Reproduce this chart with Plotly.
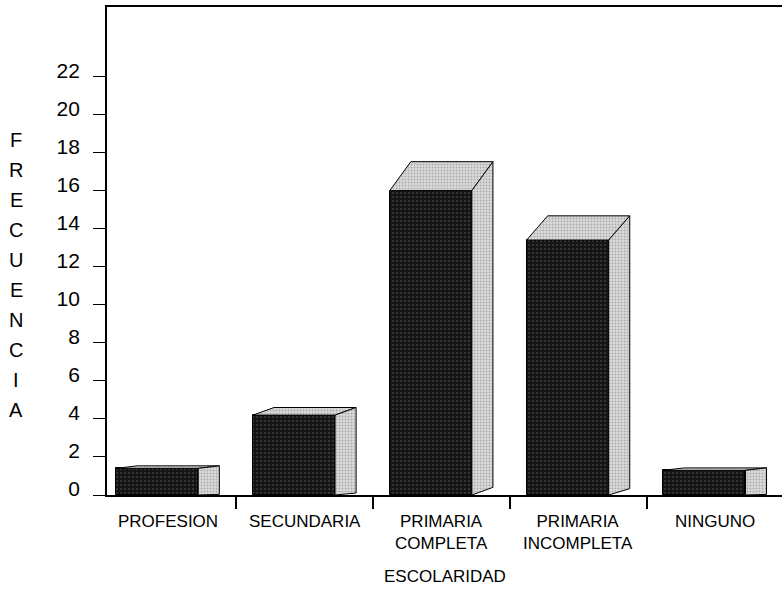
import plotly.graph_objects as go

# Frecuencia por escolaridad
categorias = ["PROFESION", "SECUNDARIA", "PRIMARIA<br>COMPLETA",
              "PRIMARIA<br>INCOMPLETA", "NINGUNO"]
frecuencia = [1.4, 4.2, 16.0, 13.4, 1.3]
y_ticks = list(range(0, 23, 2))
titulo_y = "FRECUENCIA"
titulo_x = "ESCOLARIDAD"

# Canvas and plot-area geometry (pixels)
W, H = 782, 592
ML, MR, MT, MB = 107, 0, 7, 97
PW, PH = W - ML - MR, H - MT - MB
Y_MAX = 25.65
X_RANGE = [-0.444, 4.49]

# Pseudo-3D block geometry (data units)
FRONT_W = 0.6
DEPTH_X = 0.154
RISE_TOP = 0.095
RISE_BOTTOM = 0.025

FONT = "Liberation Sans, Arial, Helvetica, sans-serif"
DARK = "#151515"
LIGHT = "#c9c9c9"


def px_to_paper(px, py):
    return (px - ML) / PW, (H - MB - py) / PH


pos = list(range(len(categorias)))
fig = go.Figure()

# Front faces of the blocks
fig.add_trace(go.Bar(
    x=[p - DEPTH_X / 2 for p in pos], y=frecuencia, width=FRONT_W,
    marker=dict(color=DARK, line=dict(color="black", width=1),
                pattern=dict(shape=".", fgcolor="#6e6e6e", bgcolor=DARK,
                             size=4, solidity=0.18)),
    hoverinfo="skip", showlegend=False,
))

# Top and side faces
for p, v in zip(pos, frecuencia):
    x0 = p - (FRONT_W + DEPTH_X) / 2
    x1 = x0 + FRONT_W
    bt = v * (1 + RISE_TOP)
    bb = v * RISE_BOTTOM
    faces = [
        ([x0, x1, x1 + DEPTH_X, x0 + DEPTH_X, x0], [v, v, bt, bt, v]),
        ([x1, x1, x1 + DEPTH_X, x1 + DEPTH_X, x1], [0, v, bt, bb, 0]),
    ]
    for fx, fy in faces:
        fig.add_trace(go.Scatter(
            x=fx, y=fy, mode="lines", fill="toself", fillcolor=LIGHT,
            fillpattern=dict(shape=".", fgcolor="#7a7a7a", bgcolor="#dcdcdc",
                             size=3, solidity=0.35),
            line=dict(color="black", width=1),
            hoverinfo="skip", showlegend=False,
        ))

annotations = []
# Category labels under the axis
for p, c in zip(pos, categorias):
    annotations.append(dict(
        x=p, y=0, xref="x", yref="y", yshift=-15, yanchor="top",
        text=c, showarrow=False, font=dict(family=FONT, size=17, color="black"),
    ))

# Axis title along x
ax_, ay_ = px_to_paper(445, 576)
annotations.append(dict(
    x=ax_, y=ay_, xref="paper", yref="paper", xanchor="center", yanchor="middle",
    text=titulo_x, showarrow=False, font=dict(family=FONT, size=17, color="black"),
))

# Vertical, letter-by-letter axis title along y
for k, ch in enumerate(titulo_y):
    lx, ly = px_to_paper(16, 140 + k * 30)
    annotations.append(dict(
        x=lx, y=ly, xref="paper", yref="paper", xanchor="center", yanchor="middle",
        text=ch, showarrow=False, font=dict(family=FONT, size=20, color="black"),
    ))

fig.update_layout(
    width=W, height=H,
    margin=dict(l=ML, r=MR, t=MT, b=MB, pad=0),
    paper_bgcolor="white", plot_bgcolor="white",
    bargap=0, showlegend=False,
    annotations=annotations,
    xaxis=dict(
        range=X_RANGE, tickmode="array", tickvals=[p + 0.5 for p in pos[:-1]],
        showticklabels=False, ticks="outside", ticklen=12, tickwidth=1.5,
        tickcolor="black", showline=True, linecolor="black", linewidth=1.8,
        mirror=True, showgrid=False, zeroline=False, fixedrange=True,
    ),
    yaxis=dict(
        range=[0, Y_MAX], tickmode="array", tickvals=y_ticks,
        ticks="outside", ticklen=12, tickwidth=1.2, tickcolor="black",
        tickfont=dict(family=FONT, size=21, color="black"),
        ticklabelstandoff=9, ticklabelshift=-6,
        showline=True, linecolor="black", linewidth=1.8,
        showgrid=False, zeroline=False, fixedrange=True,
    ),
)

fig.write_html("out.html")
